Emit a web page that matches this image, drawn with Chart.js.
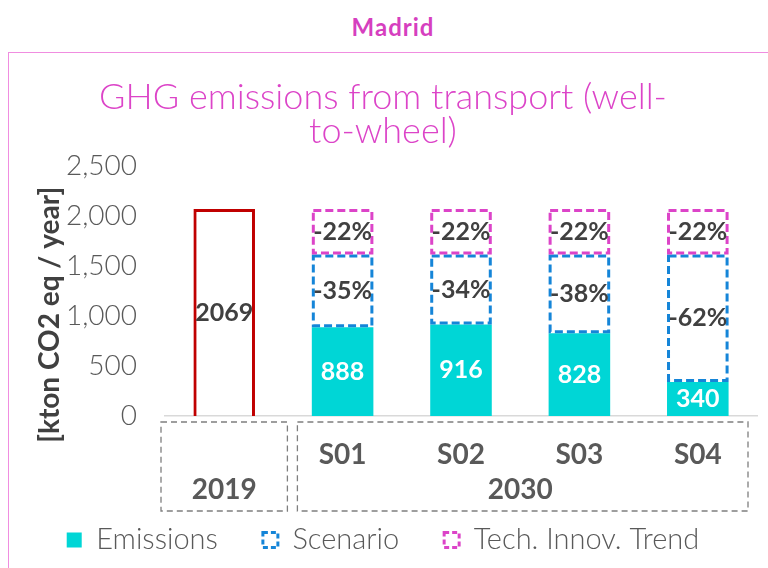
<!DOCTYPE html>
<html>
<head>
<meta charset="utf-8">
<script src="https://cdn.jsdelivr.net/npm/chart.js@4.4.1/dist/chart.umd.min.js"></script>
<style>
  html, body { margin: 0; padding: 0; background: #fff; }
  body { width: 768px; height: 568px; position: relative; overflow: hidden; }
  #city { position: absolute; left: 0; top: 12px; width: 786px; text-align: center;
          font: bold 24px Lato, sans-serif; letter-spacing: 1px; color: #d63fbf; }
  #box { position: absolute; left: 8px; top: 52px; width: 759px; height: 515px;
         border-top: 1px solid #f08de0; border-left: 1px solid #f08de0; }
</style>
</head>
<body>
<div id="city">Madrid</div>
<div id="box"><canvas id="graph"></canvas></div>
<script>
// values
var categories = ['', 'S01', 'S02', 'S03', 'S04'];
var groupNames = ['2019', '2030'];
var groupStart = [0, 1];
var groupEnd = [0, 4];

var baseline = [2069, null, null, null, null];
var emissions = [null, 888, 916, 828, 340];
var scenario = [null, 726, 698, 786, 1274];
var techTrend = [null, 455, 455, 455, 455];

var baselineLabels = ['2069', '', '', '', ''];
var emissionLabels = ['', '888', '916', '828', '340'];
var scenarioLabels = ['', '-35%', '-34%', '-38%', '-62%'];
var techLabels = ['', '-22%', '-22%', '-22%', '-22%'];

var FONT = 'Lato, sans-serif';
var CYAN = '#00d6d6';
var BLUE = '#1585d8';
var MAGENTA = '#dc44c8';
var RED = '#c00000';

// dashed outlines for the stacked "gap" segments
var dashedBars = {
    id: 'dashedBars',
    afterDatasetsDraw: function (chart) {
        var ctx = chart.ctx;
        chart.data.datasets.forEach(function (ds, i) {
            if (!ds.dashColor) return;
            var meta = chart.getDatasetMeta(i);
            meta.data.forEach(function (el, j) {
                if (ds.data[j] == null) return;
                var p = el.getProps(['x', 'y', 'base', 'width'], true);
                ctx.save();
                ctx.strokeStyle = ds.dashColor;
                ctx.lineWidth = 3;
                ctx.setLineDash([8, 4]);
                ctx.strokeRect(p.x - p.width / 2 + 1.5, p.y + 1.5, p.width - 3, p.base - p.y - 3);
                ctx.restore();
            });
        });
    }
};

// value labels in the middle of each segment
var barLabels = {
    id: 'barLabels',
    afterDatasetsDraw: function (chart) {
        var ctx = chart.ctx;
        chart.data.datasets.forEach(function (ds, i) {
            if (!ds.valueLabels) return;
            var meta = chart.getDatasetMeta(i);
            meta.data.forEach(function (el, j) {
                var txt = ds.valueLabels[j];
                if (!txt) return;
                var p = el.getProps(['x', 'y', 'base'], true);
                ctx.save();
                ctx.font = 'bold 25px ' + FONT;
                ctx.fillStyle = ds.labelColor;
                ctx.textAlign = 'center';
                ctx.textBaseline = 'middle';
                ctx.fillText(txt, p.x, (p.y + p.base) / 2);
                ctx.restore();
            });
        });
    }
};

// dashed group boxes + group names under the category axis
var groupAxis = {
    id: 'groupAxis',
    afterDraw: function (chart) {
        var ctx = chart.ctx;
        var x = chart.scales.x;
        var step = (x.right - x.left) / categories.length;
        var top = x.top + 6, bottom = x.top + 95;
        ctx.save();
        ctx.strokeStyle = '#7f7f7f';
        ctx.lineWidth = 1.3;
        ctx.setLineDash([6, 4]);
        ctx.font = 'bold 28px ' + FONT;
        ctx.fillStyle = '#595959';
        ctx.textAlign = 'center';
        ctx.textBaseline = 'middle';
        for (var g = 0; g < groupNames.length; g++) {
            var l = x.left + groupStart[g] * step;
            var r = x.left + (groupEnd[g] + 1) * step;
            l += g === 0 ? -4 : 14;
            r += g === groupNames.length - 1 ? -9 : 4;
            ctx.strokeRect(l, top, r - l, bottom - top);
            var cx = (x.getPixelForValue(groupStart[g]) + x.getPixelForValue(groupEnd[g])) / 2;
            ctx.fillText(groupNames[g], cx, x.top + 74);
        }
        ctx.restore();
    }
};

new Chart(document.getElementById('graph'), {
    type: 'bar',
    data: {
        labels: categories,
        datasets: [
            {
                label: '2019',
                data: baseline,
                backgroundColor: 'rgba(0,0,0,0)',
                borderColor: RED,
                borderWidth: 3,
                valueLabels: baselineLabels,
                labelColor: '#404040'
            },
            {
                label: 'Emissions',
                data: emissions,
                backgroundColor: CYAN,
                borderWidth: 0,
                valueLabels: emissionLabels,
                labelColor: '#ffffff'
            },
            {
                label: 'Scenario',
                data: scenario,
                backgroundColor: 'rgba(0,0,0,0)',
                borderWidth: 0,
                dashColor: BLUE,
                valueLabels: scenarioLabels,
                labelColor: '#404040'
            },
            {
                label: 'Tech. Innov. Trend',
                data: techTrend,
                backgroundColor: 'rgba(0,0,0,0)',
                borderWidth: 0,
                dashColor: MAGENTA,
                valueLabels: techLabels,
                labelColor: '#404040'
            }
        ]
    },
    options: {
        responsive: true,
        maintainAspectRatio: false,
        animation: false,
        layout: { padding: { left: 0, right: 11, top: 0, bottom: 3.5 } },
        datasets: { bar: { categoryPercentage: 0.52, barPercentage: 1 } },
        plugins: {
            tooltip: { enabled: false },
            title: {
                display: true,
                text: ['GHG emissions from transport (well-', 'to-wheel)'],
                color: MAGENTA,
                font: { family: FONT, size: 36, weight: 300, lineHeight: 0.944 },
                padding: { top: 27, bottom: 18 }
            },
            legend: {
                position: 'bottom',
                labels: {
                    color: '#595959',
                    font: { family: FONT, size: 29, weight: 300 },
                    boxWidth: 15,
                    boxHeight: 15,
                    padding: 45,
                    generateLabels: function (chart) {
                        return chart.data.datasets.slice(1).map(function (ds, k) {
                            var dashed = !!ds.dashColor;
                            return {
                                text: ds.label,
                                fillStyle: dashed ? '#ffffff' : ds.backgroundColor,
                                strokeStyle: dashed ? ds.dashColor : ds.backgroundColor,
                                lineWidth: dashed ? 3 : 0,
                                lineDash: dashed ? [5, 3] : [],
                                fontColor: '#595959',
                                datasetIndex: k + 1
                            };
                        });
                    }
                }
            }
        },
        scales: {
            x: {
                stacked: true,
                grid: { display: false, drawTicks: false },
                border: { display: true, color: '#d9d9d9', width: 1.5 },
                ticks: {
                    color: '#595959',
                    font: { family: FONT, size: 28, weight: 'bold' },
                    padding: 22,
                    maxRotation: 0
                },
                afterFit: function (scale) { scale.height = 64.5; }
            },
            y: {
                stacked: true,
                min: 0,
                max: 2500,
                grid: { display: false, drawTicks: false },
                border: { display: false },
                ticks: {
                    stepSize: 500,
                    color: '#595959',
                    padding: 28,
                    font: { family: FONT, size: 28, weight: 300 },
                    callback: function (v) { return v.toLocaleString('en-US'); }
                },
                title: {
                    display: true,
                    text: '[kton CO2 eq / year]\u00a0\u00a0\u00a0\u00a0\u00a0\u00a0\u00a0',
                    color: '#404040',
                    font: { family: FONT, size: 28, weight: 'bold' },
                    padding: { top: 24, bottom: 0 }
                },
                afterFit: function (scale) { scale.width = 156; }
            }
        }
    },
    plugins: [dashedBars, barLabels, groupAxis]
});
</script>
</body>
</html>
